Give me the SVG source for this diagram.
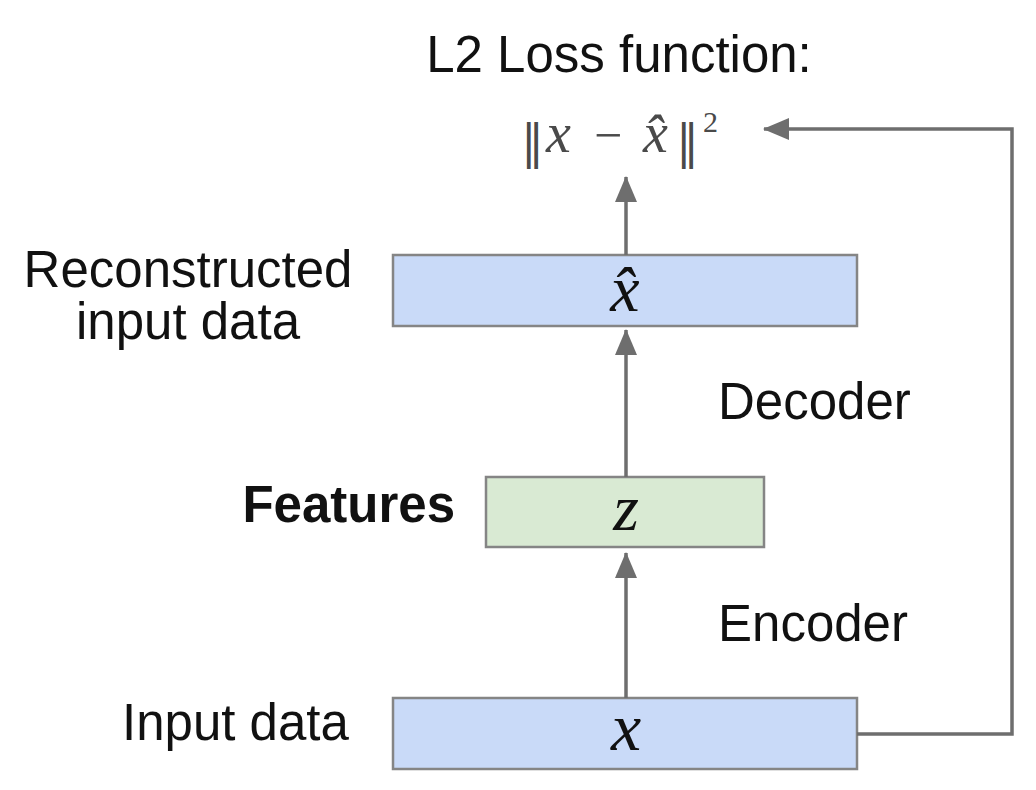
<svg xmlns="http://www.w3.org/2000/svg" width="1036" height="790" viewBox="0 0 1036 790">
<style>
.lbl{font-family:"Liberation Sans",Arial,sans-serif;font-size:51px;fill:#111}
.bold{font-weight:bold}
.math{font-family:"Liberation Serif","Times New Roman",serif;font-style:italic;fill:#111}
.frm{font-family:"Liberation Serif","Times New Roman",serif;fill:#4a4a4a}
.box{stroke:#858585;stroke-width:2.5}
.blue{fill:#c9daf8}
.green{fill:#d9ead3}
.conn{fill:none;stroke:#6e6e6e;stroke-width:3.5}
</style>
<defs>
<marker id="ah" markerUnits="userSpaceOnUse" markerWidth="26" markerHeight="24" refX="25" refY="12" orient="auto">
<path d="M0,1 L26,12 L0,23 Z" fill="#6e6e6e"/>
</marker>
</defs>
<rect width="1036" height="790" fill="#ffffff"/>

<g id="title">
<text class="lbl" x="619" y="72" text-anchor="middle" font-size="52">L2 Loss function:</text>
</g>

<g id="loss">
<text class="frm" font-size="50"><tspan x="521" y="158" font-family="DejaVu Serif" font-size="46">‖</tspan><tspan x="546" y="152" font-style="italic" font-size="56">x</tspan><tspan x="594" y="152">−</tspan><tspan x="643" y="152" font-style="italic" font-size="56">x̂</tspan><tspan x="676" y="158" font-family="DejaVu Serif" font-size="46">‖</tspan><tspan x="703" y="132" font-size="30">2</tspan></text>
</g>

<g id="reconstructed">
<rect class="box blue" x="393" y="255" width="464" height="71"/>
<text class="math" x="625" y="311" font-size="66" text-anchor="middle">x̂</text>
<text class="lbl" x="188" y="287" text-anchor="middle">Reconstructed</text>
<text class="lbl" x="188" y="339" text-anchor="middle">input data</text>
</g>

<g id="features">
<rect class="box green" x="486" y="477" width="278" height="70"/>
<text class="math" x="626" y="530" font-size="66" text-anchor="middle">z</text>
<text class="lbl bold" x="455" y="522" text-anchor="end">Features</text>
</g>

<g id="input">
<rect class="box blue" x="393" y="698" width="464" height="71"/>
<text class="math" x="626" y="750" font-size="68" text-anchor="middle">x</text>
<text class="lbl" x="122" y="740">Input data</text>
</g>

<g id="stage-labels">
<text class="lbl" x="718" y="419">Decoder</text>
<text class="lbl" x="718" y="641">Encoder</text>
</g>

<g id="connectors">
<line class="conn" x1="626" y1="698" x2="626" y2="553" marker-end="url(#ah)"/>
<line class="conn" x1="626" y1="477" x2="626" y2="330" marker-end="url(#ah)"/>
<line class="conn" x1="626" y1="255" x2="626" y2="177" marker-end="url(#ah)"/>
<polyline class="conn" points="857,734 1012,734 1012,129 764,129" marker-end="url(#ah)"/>
</g>
</svg>
